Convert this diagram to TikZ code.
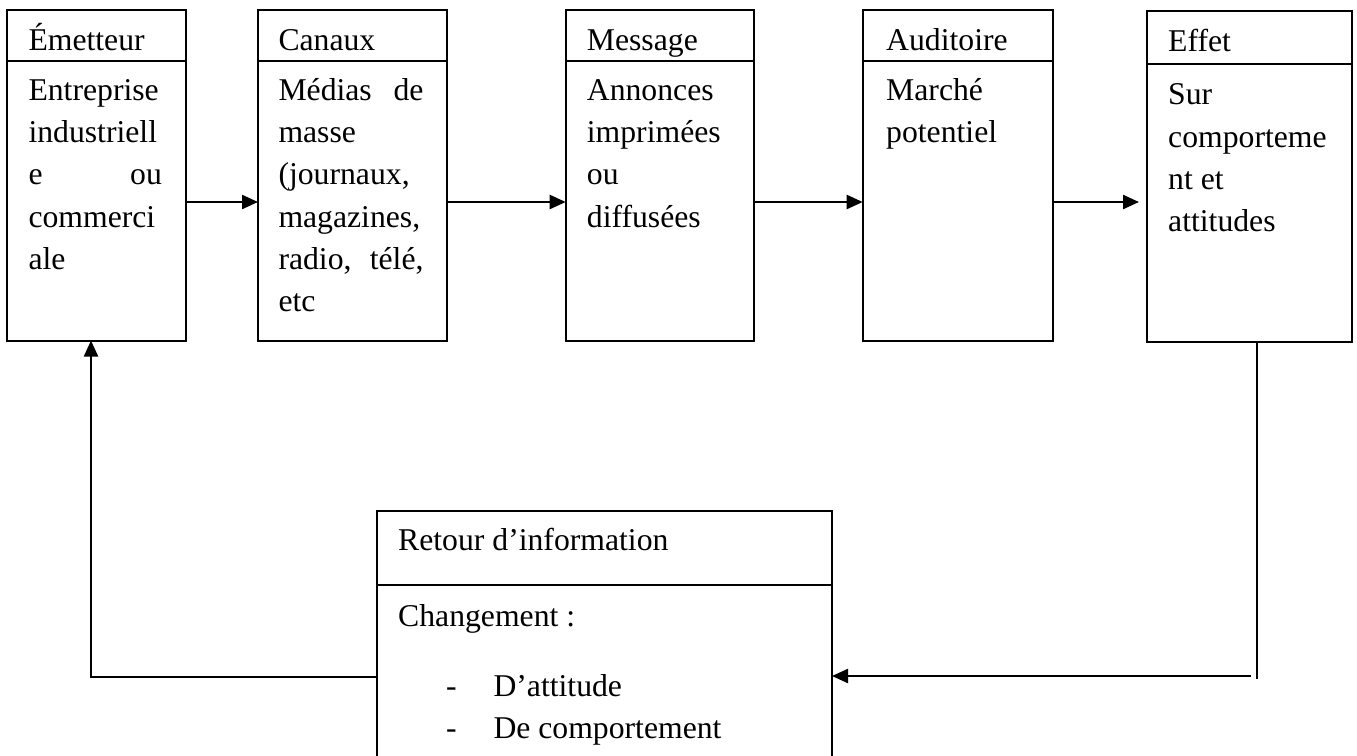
\documentclass[tikz,border=0pt]{standalone}
\usepackage{fontspec}
\setmainfont{Liberation Serif}
\usetikzlibrary{arrows.meta}
\begin{document}
\begin{tikzpicture}[x=1pt,y=-1pt,
  box/.style={draw, line width=2pt, inner sep=0pt, outer sep=0pt, anchor=north west},
  divline/.style={line width=2pt},
  head/.style={anchor=base west, inner sep=0pt, font=\fontsize{31.7}{42.3}\selectfont},
  body/.style={anchor=north west, inner sep=0pt, align=left, font=\fontsize{31.7}{42.3}\selectfont},
  conn/.style={line width=2.3pt, -{Triangle[length=16pt,width=14pt]}},
  plain/.style={line width=2.3pt}]
\useasboundingbox (0,0) rectangle (1357,755);
\fill[white] (0,0) rectangle (1357,755);
\clip (0,0) rectangle (1357,755);

% boxes
\node[box, minimum width=178.4pt, minimum height=330.5pt] (emet) at (7.3,10) {};
\node[box, minimum width=188.7pt, minimum height=330.5pt] (canaux) at (258,10) {};
\node[box, minimum width=188.6pt, minimum height=330.5pt] (message) at (565.7,10) {};
\node[box, minimum width=190.6pt, minimum height=330.5pt] (audit) at (862.7,10) {};
\node[box, minimum width=205.3pt, minimum height=330.7pt] (effet) at (1147,11) {};
\node[box, minimum width=455pt, minimum height=300pt] (retour) at (377,511) {};

% header dividers
\draw[divline] (emet.west |- 0,61) -- (emet.east |- 0,61);
\draw[divline] (canaux.west |- 0,61) -- (canaux.east |- 0,61);
\draw[divline] (message.west |- 0,61) -- (message.east |- 0,61);
\draw[divline] (audit.west |- 0,61) -- (audit.east |- 0,61);
\draw[divline] (effet.west |- 0,64.3) -- (effet.east |- 0,64.3);
\draw[divline] (retour.west |- 0,585) -- (retour.east |- 0,585);

% headers
\node[head] (hemet) at (28.3,50) {Émetteur};
\node[head] (hcanaux) at (278.3,50) {Canaux};
\node[head] (hmessage) at (586.7,50) {Message};
\node[head] (haudit) at (886,50) {Auditoire};
\node[head] (heffet) at (1168,51.5) {Effet};
\node[head] (hretour) at (398,550) {Retour d’information};

% bodies
\node[body] (bemet) at (28.3,70.4) {\strut Entreprise\\ industriell\\ \makebox[133.4pt][s]{e ou}\\ commerci\\ ale};
\node[body] (bcanaux) at (278.3,70.4) {\strut\makebox[145pt][s]{Médias de}\\ masse\\ (journaux,\\ magazines,\\ \makebox[145pt][s]{radio, télé,}\\ etc};
\node[body] (bmessage) at (586.7,70.4) {\strut Annonces\\ imprimées\\ ou\\ diffusées};
\node[body] (baudit) at (886,70.4) {\strut Marché\\ potentiel};
\node[body] (beffet) at (1168,74.9) {\strut Sur\\ comporteme\\ nt et\\ attitudes};

\node[head] (chg) at (398,626.7) {Changement :};
\node[head] (d1) at (446,696.7) {-};
\node[head] (t1) at (493.3,696.7) {D’attitude};
\node[head] (d2) at (446,738) {-};
\node[head] (t2) at (493.3,738) {De comportement};

% connectors
\coordinate (ay) at (0,202);
\draw[conn] (emet.east |- ay) -- (canaux.west |- ay);
\draw[conn] (canaux.east |- ay) -- (message.west |- ay);
\draw[conn] (message.east |- ay) -- (audit.west |- ay);
\coordinate (etip) at (1139,202);
\draw[conn] (audit.east |- ay) -- (etip);

\coordinate (fbend) at (1257,679);
\coordinate (fbstart) at (1251,676);
\draw[plain] (effet.south -| fbend) -- (fbend);
\draw[conn] (fbstart) -- (retour.east |- fbstart);

\coordinate (lcorner) at (91,677);
\draw[conn] (retour.west |- lcorner) -- (lcorner) -- (emet.south -| lcorner);
\end{tikzpicture}
\end{document}
